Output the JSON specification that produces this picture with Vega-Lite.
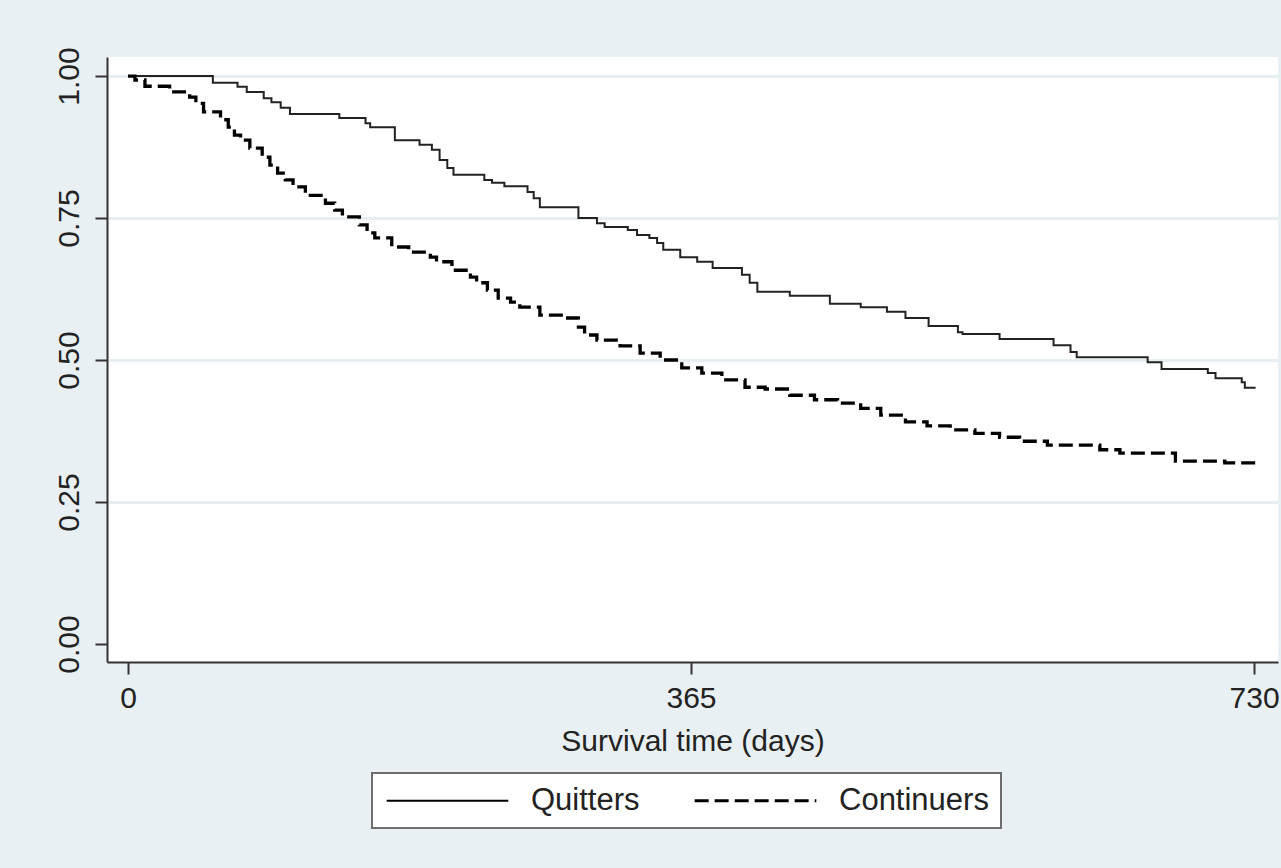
{
  "$schema": "https://vega.github.io/schema/vega-lite/v6.json",
  "autosize": {"type": "none"},
  "padding": {"left": 107, "top": 57, "right": 3, "bottom": 206},
  "width": 1171,
  "height": 605,
  "background": "#e8f0f3",
  "config": {
    "view": {"fill": "white", "stroke": null},
    "font": "Liberation Sans",
    "axis": {
      "domainColor": "#333333",
      "domainWidth": 2,
      "tickColor": "#333333",
      "tickWidth": 2,
      "tickSize": 12,
      "labelColor": "#222222",
      "labelFont": "Liberation Sans",
      "labelFontSize": 30,
      "labelFlush": false,
      "labelOverlap": false,
      "titleColor": "#222222",
      "titleFont": "Liberation Sans",
      "titleFontSize": 30,
      "titleFontWeight": "normal"
    },
    "legend": {"strokeWidth": 2}
  },
  "data": {
    "values": [
      {"group": "Quitters", "day": 0, "surv": 1.0},
      {"group": "Quitters", "day": 55, "surv": 0.988},
      {"group": "Quitters", "day": 71, "surv": 0.981},
      {"group": "Quitters", "day": 77, "surv": 0.972},
      {"group": "Quitters", "day": 88, "surv": 0.961},
      {"group": "Quitters", "day": 93, "surv": 0.954},
      {"group": "Quitters", "day": 99, "surv": 0.944},
      {"group": "Quitters", "day": 105, "surv": 0.933},
      {"group": "Quitters", "day": 137, "surv": 0.926},
      {"group": "Quitters", "day": 154, "surv": 0.917},
      {"group": "Quitters", "day": 157, "surv": 0.910},
      {"group": "Quitters", "day": 173, "surv": 0.887},
      {"group": "Quitters", "day": 189, "surv": 0.879},
      {"group": "Quitters", "day": 197, "surv": 0.870},
      {"group": "Quitters", "day": 202, "surv": 0.852},
      {"group": "Quitters", "day": 207, "surv": 0.838},
      {"group": "Quitters", "day": 211, "surv": 0.826},
      {"group": "Quitters", "day": 231, "surv": 0.817},
      {"group": "Quitters", "day": 236, "surv": 0.812},
      {"group": "Quitters", "day": 244, "surv": 0.806},
      {"group": "Quitters", "day": 259, "surv": 0.796},
      {"group": "Quitters", "day": 263, "surv": 0.785},
      {"group": "Quitters", "day": 267, "surv": 0.769},
      {"group": "Quitters", "day": 292, "surv": 0.750},
      {"group": "Quitters", "day": 304, "surv": 0.741},
      {"group": "Quitters", "day": 309, "surv": 0.734},
      {"group": "Quitters", "day": 324, "surv": 0.729},
      {"group": "Quitters", "day": 330, "surv": 0.720},
      {"group": "Quitters", "day": 338, "surv": 0.715},
      {"group": "Quitters", "day": 343, "surv": 0.706},
      {"group": "Quitters", "day": 347, "surv": 0.694},
      {"group": "Quitters", "day": 358, "surv": 0.681},
      {"group": "Quitters", "day": 369, "surv": 0.673},
      {"group": "Quitters", "day": 379, "surv": 0.662},
      {"group": "Quitters", "day": 398, "surv": 0.650},
      {"group": "Quitters", "day": 403, "surv": 0.636},
      {"group": "Quitters", "day": 408, "surv": 0.620},
      {"group": "Quitters", "day": 429, "surv": 0.613},
      {"group": "Quitters", "day": 455, "surv": 0.599},
      {"group": "Quitters", "day": 475, "surv": 0.593},
      {"group": "Quitters", "day": 492, "surv": 0.585},
      {"group": "Quitters", "day": 504, "surv": 0.574},
      {"group": "Quitters", "day": 519, "surv": 0.560},
      {"group": "Quitters", "day": 538, "surv": 0.549},
      {"group": "Quitters", "day": 541, "surv": 0.546},
      {"group": "Quitters", "day": 565, "surv": 0.537},
      {"group": "Quitters", "day": 600, "surv": 0.526},
      {"group": "Quitters", "day": 611, "surv": 0.514},
      {"group": "Quitters", "day": 615, "surv": 0.505},
      {"group": "Quitters", "day": 661, "surv": 0.496},
      {"group": "Quitters", "day": 670, "surv": 0.484},
      {"group": "Quitters", "day": 700, "surv": 0.477},
      {"group": "Quitters", "day": 705, "surv": 0.468},
      {"group": "Quitters", "day": 722, "surv": 0.461},
      {"group": "Quitters", "day": 724, "surv": 0.451},
      {"group": "Quitters", "day": 731, "surv": 0.451},
      {"group": "Continuers", "day": 0, "surv": 1.0},
      {"group": "Continuers", "day": 4.5, "surv": 0.993},
      {"group": "Continuers", "day": 11, "surv": 0.982},
      {"group": "Continuers", "day": 27, "surv": 0.972},
      {"group": "Continuers", "day": 40, "surv": 0.963},
      {"group": "Continuers", "day": 44, "surv": 0.952},
      {"group": "Continuers", "day": 49, "surv": 0.937},
      {"group": "Continuers", "day": 60, "surv": 0.923},
      {"group": "Continuers", "day": 65, "surv": 0.910},
      {"group": "Continuers", "day": 69, "surv": 0.896},
      {"group": "Continuers", "day": 73, "surv": 0.887},
      {"group": "Continuers", "day": 79, "surv": 0.873},
      {"group": "Continuers", "day": 87, "surv": 0.857},
      {"group": "Continuers", "day": 92, "surv": 0.843},
      {"group": "Continuers", "day": 97, "surv": 0.829},
      {"group": "Continuers", "day": 102, "surv": 0.817},
      {"group": "Continuers", "day": 107, "surv": 0.805},
      {"group": "Continuers", "day": 115, "surv": 0.790},
      {"group": "Continuers", "day": 128, "surv": 0.776},
      {"group": "Continuers", "day": 134, "surv": 0.764},
      {"group": "Continuers", "day": 139, "surv": 0.752},
      {"group": "Continuers", "day": 150, "surv": 0.738},
      {"group": "Continuers", "day": 155, "surv": 0.724},
      {"group": "Continuers", "day": 160, "surv": 0.715},
      {"group": "Continuers", "day": 171, "surv": 0.699},
      {"group": "Continuers", "day": 182, "surv": 0.690},
      {"group": "Continuers", "day": 196, "surv": 0.681},
      {"group": "Continuers", "day": 200, "surv": 0.673},
      {"group": "Continuers", "day": 210, "surv": 0.658},
      {"group": "Continuers", "day": 222, "surv": 0.646},
      {"group": "Continuers", "day": 226, "surv": 0.636},
      {"group": "Continuers", "day": 233, "surv": 0.623},
      {"group": "Continuers", "day": 240, "surv": 0.609},
      {"group": "Continuers", "day": 248, "surv": 0.602},
      {"group": "Continuers", "day": 254, "surv": 0.593},
      {"group": "Continuers", "day": 267, "surv": 0.579},
      {"group": "Continuers", "day": 282, "surv": 0.574},
      {"group": "Continuers", "day": 292, "surv": 0.558},
      {"group": "Continuers", "day": 296, "surv": 0.544},
      {"group": "Continuers", "day": 304, "surv": 0.535},
      {"group": "Continuers", "day": 319, "surv": 0.525},
      {"group": "Continuers", "day": 332, "surv": 0.512},
      {"group": "Continuers", "day": 345, "surv": 0.500},
      {"group": "Continuers", "day": 359, "surv": 0.486},
      {"group": "Continuers", "day": 372, "surv": 0.477},
      {"group": "Continuers", "day": 385, "surv": 0.465},
      {"group": "Continuers", "day": 400, "surv": 0.452},
      {"group": "Continuers", "day": 413, "surv": 0.449},
      {"group": "Continuers", "day": 429, "surv": 0.438},
      {"group": "Continuers", "day": 445, "surv": 0.430},
      {"group": "Continuers", "day": 460, "surv": 0.424},
      {"group": "Continuers", "day": 475, "surv": 0.415},
      {"group": "Continuers", "day": 488, "surv": 0.403},
      {"group": "Continuers", "day": 504, "surv": 0.391},
      {"group": "Continuers", "day": 518, "surv": 0.384},
      {"group": "Continuers", "day": 533, "surv": 0.377},
      {"group": "Continuers", "day": 549, "surv": 0.371},
      {"group": "Continuers", "day": 565, "surv": 0.364},
      {"group": "Continuers", "day": 578, "surv": 0.357},
      {"group": "Continuers", "day": 596, "surv": 0.350},
      {"group": "Continuers", "day": 630, "surv": 0.342},
      {"group": "Continuers", "day": 643, "surv": 0.336},
      {"group": "Continuers", "day": 679, "surv": 0.322},
      {"group": "Continuers", "day": 711, "surv": 0.319},
      {"group": "Continuers", "day": 731, "surv": 0.319}
    ]
  },
  "encoding": {
    "x": {
      "field": "day",
      "type": "quantitative",
      "scale": {"domain": [-13.6, 745.5], "nice": false, "zero": false},
      "axis": {
        "values": [0, 365, 730],
        "grid": false,
        "title": "Survival time (days)",
        "labelPadding": 9,
        "labelBaseline": "top",
        "titlePadding": 13
      }
    },
    "y": {
      "field": "surv",
      "type": "quantitative",
      "scale": {"domain": [-0.0317, 1.0335], "nice": false, "zero": false},
      "axis": {
        "values": [0, 0.25, 0.5, 0.75, 1.0],
        "format": ".2f",
        "title": null,
        "grid": true,
        "gridColor": {"condition": {"test": "datum.value === 0", "value": "white"}, "value": "#e6eef2"},
        "gridWidth": 3,
        "labelAngle": -90,
        "labelAlign": "center",
        "labelBaseline": "alphabetic",
        "labelPadding": 17
      }
    },
    "strokeDash": {
      "field": "group",
      "type": "nominal",
      "scale": {"domain": ["Quitters", "Continuers"], "range": [[1, 0], [14, 6]]},
      "legend": {
        "title": null,
        "orient": "none",
        "legendX": 265,
        "legendY": 716,
        "direction": "horizontal",
        "fillColor": "white",
        "strokeColor": "#6e6e6e",
        "padding": 12,
        "symbolType": "stroke",
        "symbolSize": 14800,
        "symbolOffset": 48,
        "symbolStrokeColor": "black",
        "symbolStrokeWidth": 2,
        "labelFont": "Liberation Sans",
        "labelFontSize": 31,
        "labelColor": "#222222",
        "labelOffset": 68,
        "columnPadding": 48,
        "encode": {
          "symbols": {"update": {"strokeWidth": {"signal": "datum.value === 'Continuers' ? 3.2 : 1.8"}}}
        }
      }
    }
  },
  "layer": [
    {
      "transform": [{"filter": "datum.group === 'Quitters'"}],
      "mark": {"type": "line", "interpolate": "step-after", "stroke": "#222222", "strokeWidth": 2}
    },
    {
      "transform": [{"filter": "datum.group === 'Continuers'"}],
      "mark": {"type": "line", "interpolate": "step-after", "stroke": "black", "strokeWidth": 3.3}
    }
  ]
}
